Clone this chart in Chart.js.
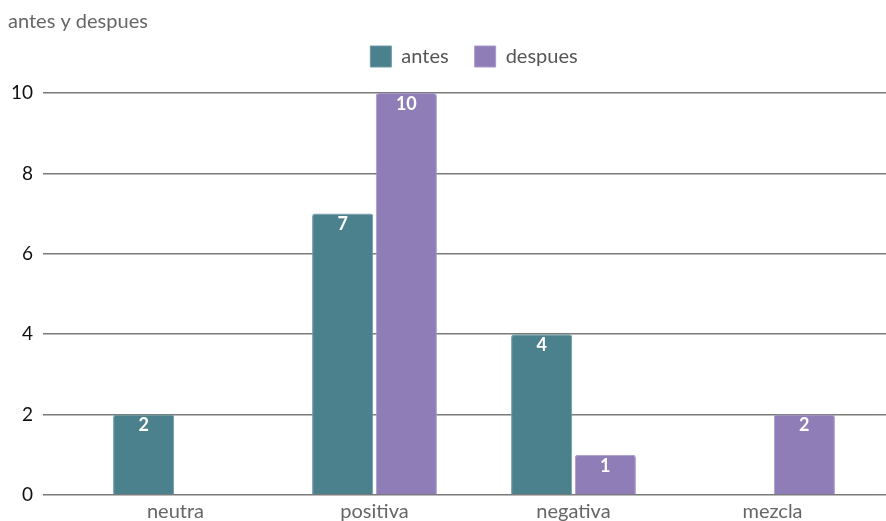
<!DOCTYPE html>
<html>
<head>
<meta charset="utf-8">
<script src="https://cdn.jsdelivr.net/npm/chart.js@4.4.1/dist/chart.umd.min.js"></script>
<style>
    html, body { margin: 0; padding: 0; background: #fff; }
    #wrap { width: 886px; height: 521px; }
</style>
</head>
<body>
<div id="wrap"><canvas id="resultsChart"></canvas></div>
<script>
const categories = ['neutra', 'positiva', 'negativa', 'mezcla'];
const antesValues = [2, 7, 4, 0];
const despuesValues = [0, 10, 1, 2];
const yTicks = [0, 2, 4, 6, 8, 10];

const FONT = 'Lato, "Noto Sans", sans-serif';

// white value labels at the top of every bar
const barLabels = {
    id: 'barLabels',
    afterDatasetsDraw(chart) {
        const ctx = chart.ctx;
        ctx.save();
        ctx.fillStyle = '#ffffff';
        ctx.font = 'bold 18px ' + FONT;
        ctx.textAlign = 'center';
        ctx.textBaseline = 'middle';
        chart.data.datasets.forEach((ds, i) => {
            chart.getDatasetMeta(i).data.forEach((bar, j) => {
                if (!ds.data[j]) return;
                ctx.fillText(ds.data[j], bar.x, bar.y + 11);
            });
        });
        ctx.restore();
    }
};

// a bit more room under the legend
const legendGap = {
    id: 'legendGap',
    beforeInit(chart) {
        const fit = chart.legend.fit;
        chart.legend.fit = function () {
            fit.bind(chart.legend)();
            this.height += 16;
        };
    }
};

document.addEventListener('DOMContentLoaded', function () {
    const ctx = document.getElementById('resultsChart').getContext('2d');
    new Chart(ctx, {
        type: 'bar',
        data: {
            labels: categories,
            datasets: [
                { label: 'antes', data: antesValues, backgroundColor: '#4a818c', borderColor: '#6f9aa3', borderWidth: 1, borderRadius: 3, borderSkipped: 'bottom' },
                { label: 'despues', data: despuesValues, backgroundColor: '#8f7db8', borderColor: '#a898c9', borderWidth: 1, borderRadius: 3, borderSkipped: 'bottom' }
            ]
        },
        options: {
            responsive: true,
            maintainAspectRatio: false,
            animation: false,
            layout: { padding: { left: 8, right: 0, top: 10, bottom: 0 } },
            datasets: { bar: { categoryPercentage: 0.64, barPercentage: 0.96 } },
            plugins: {
                title: {
                    display: true,
                    text: 'antes y despues',
                    align: 'start',
                    color: '#666666',
                    font: { family: FONT, size: 20, weight: 'normal' },
                    padding: { top: 0, bottom: -14 }
                },
                legend: {
                    fullSize: false,
                    labels: {
                        boxWidth: 21,
                        boxHeight: 21,
                        color: '#555555',
                        padding: 26,
                        font: { family: FONT, size: 20 }
                    }
                },
                tooltip: { enabled: false }
            },
            scales: {
                x: {
                    grid: { display: false },
                    border: { display: false },
                    ticks: { color: '#666666', padding: -3, font: { family: FONT, size: 20 } }
                },
                y: {
                    min: 0,
                    max: 10,
                    afterBuildTicks: axis => { axis.ticks = yTicks.map(v => ({ value: v })); },
                    afterFit: axis => { axis.width = 68; },
                    border: { display: false },
                    grid: { color: '#7a7a7a', lineWidth: 1.5, tickLength: 33, drawTicks: true },
                    ticks: { color: '#111111', padding: 10, font: { family: FONT, size: 19 } }
                },
                yRight: {
                    position: 'right',
                    min: 0,
                    max: 10,
                    afterBuildTicks: axis => { axis.ticks = yTicks.map(v => ({ value: v })); },
                    border: { display: false },
                    grid: { color: '#7a7a7a', lineWidth: 1.5, tickLength: 14, drawOnChartArea: false },
                    ticks: { display: false }
                }
            }
        },
        plugins: [barLabels, legendGap]
    });
});
</script>
</body>
</html>
